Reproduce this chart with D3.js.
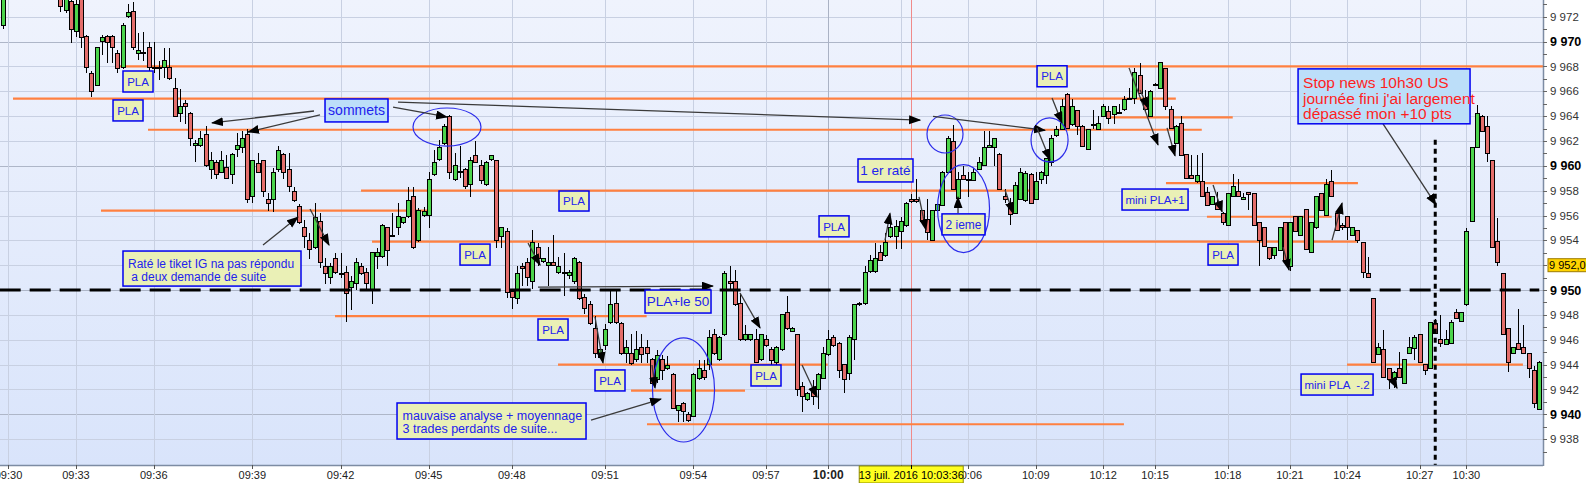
<!DOCTYPE html>
<html><head><meta charset="utf-8">
<script src="https://cdn.jsdelivr.net/npm/d3@7"></script>
<style>body{margin:0;background:#fff;overflow:hidden}svg{display:block}text{font-family:"Liberation Sans",Arial,sans-serif}</style>
</head><body>
<svg id="c" width="1586" height="483"></svg>
<script>
// ---- candle data (index = bar number) ----
const opens=[9971.3,9974.5,9976.0,9975.8,9977.4,9976.5,9975.3,9976.2,9975.5,9974.8,9975.4,9974.3,9972.5,9973.2,9970.8,9974.0,9970.4,9967.4,9966.5,9970.0,
9970.4,9970.4,9969.0,9967.9,9972.0,9972.4,9969.0,9969.0,9969.5,9967.9,9967.9,9967.9,9967.9,9966.2,9964.2,9965.0,9964.2,9961.6,9961.6,9962.5,
9959.7,9960.3,9959.5,9959.9,9959.3,9961.3,9961.5,9962.5,9957.5,9960.2,9960.4,9957.3,9957.3,9959.7,9960.9,9959.7,9957.9,9956.7,9955.0,9954.0,
9953.4,9955.5,9951.9,9951.0,9952.5,9951.3,9951.4,9950.2,9950.5,9951.9,9951.4,9950.0,9952.7,9952.7,9955.0,9954.4,9955.0,9955.4,9955.9,9957.5,
9954.0,9956.0,9956.0,9959.3,9960.5,9961.8,9964.0,9958.9,9959.5,9959.7,9958.5,9960.8,9960.0,9958.5,9960.5,9960.4,9954.3,9954.7,9949.9,9949.3,
9951.9,9952.2,9950.7,9953.4,9952.3,9952.0,9952.2,9951.4,9951.4,9951.2,9950.7,9952.2,9949.4,9948.8,9946.9,9944.6,9945.5,9947.4,9948.9,9947.3,
9944.9,9944.9,9944.4,9945.4,9945.4,9944.4,9942.8,9944.4,9943.7,9943.2,9940.3,9940.9,9939.95,9939.8,9942.9,9943.5,9944.0,9946.4,9944.4,9946.4,
9950.7,9950.7,9948.9,9946.0,9946.0,9946.0,9944.4,9946.0,9945.2,9944.2,9945.2,9948.2,9946.7,9946.4,9942.2,9941.2,9942.1,9942.0,9942.9,9944.8,
9946.2,9945.7,9944.0,9943.25,9946.0,9948.9,9948.9,9951.5,9951.5,9953.0,9952.8,9954.3,9954.3,9954.7,9955.2,9957.3,9957.3,9956.4,9955.7,9954.0,
9956.4,9956.8,9959.5,9961.95,9957.4,9959.2,9958.9,9958.8,9959.7,9960.0,9961.5,9961.5,9960.9,9957.5,9957.0,9956.2,9957.3,9957.2,9959.3,9957.3,
9958.9,9959.2,9960.3,9962.4,9962.9,9965.7,9963.3,9964.45,9963.2,9961.3,9963.3,9962.95,9964.0,9964.4,9964.1,9964.2,9964.5,9965.4,9965.4,9967.3,
9965.4,9964.0,9966.5,9966.25,9967.8,9964.5,9961.8,9963.4,9960.9,9959.2,9958.7,9958.7,9957.85,9956.9,9956.9,9956.2,9955.2,9957.5,9957.9,9957.3,
9957.85,9957.8,9955.4,9955.0,9953.4,9952.8,9953.2,9955.4,9951.9,9955.9,9954.4,9956.45,9953.0,9955.0,9957.8,9956.0,9958.7,9956.2,9955.2,9955.9,
9954.4,9954.8,9953.8,9951.3,9949.3,9944.8,9945.2,9943.7,9942.8,9943.7,9942.5,9944.9,9945.3,9946.4,9944.0,9943.7,9947.3,9946.0,9945.6,9945.7,
9948.2,9947.5,9948.8,9955.5,9961.5,9964.0,9963.2,9960.4,9953.9,9951.3,9946.9,9944.9,9945.7,9945.4,9944.9,9943.5,9940.4];
const highs=[9975.0,9976.5,9977.5,9978.0,9978.6,9977.2,9976.8,9977.0,9976.0,9975.9,9975.8,9974.6,9974.5,9973.6,9973.5,9974.3,9970.5,9967.6,9969.6,9970.5,
9970.5,9970.5,9969.3,9971.5,9973.0,9973.2,9970.7,9970.8,9970.0,9970.0,9968.4,9969.5,9969.5,9967.1,9966.2,9965.3,9964.3,9962.1,9962.8,9963.2,
9961.1,9960.5,9961.2,9960.9,9961.0,9962.6,9962.8,9963.0,9960.5,9961.0,9960.5,9957.8,9959.8,9961.6,9961.0,9961.0,9958.3,9956.9,9955.6,9954.6,
9957.0,9956.2,9952.6,9952.2,9953.0,9953.0,9951.9,9951.1,9952.6,9952.2,9951.8,9953.1,9953.4,9955.3,9955.1,9956.2,9957.0,9955.9,9958.3,9958.3,
9956.6,9956.7,9959.5,9961.3,9962.1,9963.4,9964.1,9961.0,9961.6,9959.8,9960.7,9962.0,9960.5,9960.4,9960.9,9960.5,9955.1,9955.0,9950.0,9951.9,
9952.2,9952.6,9954.8,9953.8,9952.6,9953.5,9954.4,9952.7,9953.0,9951.6,9952.7,9952.3,9949.7,9949.1,9947.9,9945.3,9947.3,9949.9,9950.0,9947.4,
9946.0,9946.5,9946.7,9946.5,9946.0,9944.5,9945.2,9944.8,9944.7,9943.3,9940.75,9941.0,9940.2,9943.3,9944.4,9944.4,9946.8,9946.9,9946.3,9951.5,
9951.9,9951.6,9949.7,9947.2,9946.5,9946.9,9946.5,9946.4,9945.4,9945.5,9948.1,9949.5,9947.0,9946.5,9942.6,9941.8,9942.8,9943.3,9945.45,9946.8,
9946.4,9945.8,9944.05,9946.4,9948.9,9949.0,9951.9,9952.8,9953.8,9953.6,9954.6,9955.4,9955.65,9955.9,9957.1,9957.7,9958.9,9956.45,9957.3,9956.45,
9956.95,9959.55,9962.4,9963.3,9959.5,9960.0,9959.5,9959.8,9960.7,9962.8,9962.8,9962.25,9961.0,9958.1,9957.4,9958.7,9959.8,9959.6,9959.4,9959.5,
9959.55,9960.65,9962.5,9963.2,9965.4,9965.85,9965.4,9964.5,9963.25,9963.0,9964.5,9964.0,9965.0,9964.8,9964.85,9965.0,9965.6,9966.25,9967.9,9968.3,
9966.1,9966.1,9966.7,9968.35,9967.85,9964.8,9963.25,9964.0,9960.95,9960.9,9960.9,9961.0,9958.3,9957.55,9957.9,9956.25,9957.85,9959.3,9958.9,9957.8,
9957.9,9957.85,9955.45,9955.05,9953.45,9953.45,9955.05,9955.45,9955.45,9955.95,9955.95,9956.5,9955.45,9957.55,9957.85,9958.9,9959.7,9956.25,9955.4,9955.95,
9955.05,9954.85,9953.85,9952.7,9949.35,9945.7,9946.8,9943.75,9943.45,9945.0,9944.45,9946.25,9946.4,9946.45,9944.05,9947.45,9947.7,9948.0,9946.8,9947.6,
9948.5,9948.25,9955.0,9961.55,9964.9,9964.05,9964.0,9960.45,9955.8,9951.4,9946.95,9945.45,9948.5,9947.2,9944.95,9943.9,9944.25];
const lows=[9971.0,9974.2,9975.4,9975.5,9976.2,9975.0,9974.6,9975.1,9974.3,9974.1,9974.0,9972.4,9972.3,9969.9,9970.4,9969.5,9967.5,9965.5,9966.4,9968.9,
9968.3,9968.3,9967.5,9967.8,9971.9,9969.3,9968.5,9968.4,9967.6,9967.5,9966.9,9967.1,9966.9,9963.9,9963.5,9963.4,9961.6,9960.3,9961.5,9959.9,
9958.9,9958.9,9959.4,9958.9,9958.5,9960.7,9961.0,9957.0,9957.0,9959.4,9957.5,9956.4,9956.3,9959.5,9958.9,9957.9,9957.1,9955.3,9953.4,9952.5,
9953.3,9951.8,9950.5,9950.5,9951.3,9951.0,9947.4,9948.4,9950.0,9951.2,9950.1,9948.9,9951.7,9952.6,9951.9,9954.3,9954.4,9955.3,9955.8,9953.3,
9953.9,9955.9,9955.0,9959.2,9960.4,9961.7,9958.9,9958.8,9959.0,9958.1,9957.5,9960.2,9958.5,9958.4,9960.4,9953.4,9953.4,9949.4,9948.5,9948.9,
9950.3,9950.3,9950.1,9951.9,9952.2,9950.3,9951.9,9951.3,9949.5,9950.9,9950.5,9949.2,9948.1,9947.2,9944.5,9944.5,9945.2,9947.3,9947.3,9944.8,
9944.1,9944.0,9944.2,9944.1,9944.1,9942.2,9942.5,9942.8,9943.6,9940.4,9939.4,9939.4,9939.4,9939.75,9942.8,9942.8,9943.6,9944.8,9944.3,9946.3,
9950.0,9948.7,9945.9,9945.9,9945.9,9944.1,9944.3,9945.4,9943.4,9944.0,9945.1,9946.8,9946.6,9941.5,9940.2,9941.1,9940.75,9940.4,9942.85,9944.7,
9945.4,9942.9,9941.7,9942.8,9944.4,9948.7,9948.8,9951.4,9951.4,9952.35,9952.7,9954.2,9953.3,9953.3,9955.1,9957.0,9957.0,9955.4,9954.0,9953.95,
9956.35,9956.75,9959.45,9958.05,9957.35,9958.85,9957.5,9958.75,9959.65,9959.95,9961.4,9960.0,9958.05,9957.0,9955.2,9956.15,9957.25,9957.1,9956.95,9957.25,
9958.5,9958.5,9960.0,9962.3,9962.85,9962.95,9963.2,9962.5,9961.5,9961.25,9963.0,9962.9,9963.95,9963.4,9963.4,9964.15,9964.45,9965.35,9965.0,9965.75,
9964.45,9963.95,9966.4,9966.2,9964.5,9962.95,9961.75,9960.75,9958.9,9958.9,9958.65,9957.45,9956.75,9956.85,9956.45,9955.2,9955.15,9957.45,9957.45,9957.25,
9956.45,9955.15,9951.9,9953.45,9952.45,9952.5,9953.15,9952.25,9951.5,9954.65,9954.35,9953.25,9952.95,9954.95,9956.35,9955.95,9957.45,9954.75,9954.8,9954.0,
9954.35,9953.8,9951.0,9950.95,9944.15,9944.75,9942.95,9942.0,9942.1,9942.95,9942.45,9944.85,9944.4,9944.15,9943.2,9943.65,9946.45,9945.4,9945.55,9945.65,
9947.65,9947.45,9948.75,9955.45,9961.45,9962.75,9960.3,9953.35,9951.9,9946.35,9943.4,9944.85,9945.15,9944.85,9942.9,9940.5,9940.35];
const closes=[9974.5,9976.0,9975.8,9977.4,9976.5,9975.3,9976.2,9975.5,9974.8,9975.4,9974.3,9972.8,9974.0,9971.0,9973.0,9970.3,9967.9,9966.0,9969.5,9970.3,
9969.9,9969.5,9967.8,9971.3,9972.3,9969.5,9969.3,9969.1,9967.9,9967.8,9967.85,9968.5,9967.0,9964.0,9964.8,9964.8,9962.2,9961.8,9962.2,9960.0,
9960.4,9959.3,9960.4,9959.0,9960.9,9961.6,9962.2,9957.3,9960.4,9959.5,9957.9,9957.0,9959.5,9961.2,9959.5,9958.3,9957.2,9955.4,9954.3,9953.3,
9955.8,9952.2,9951.3,9951.9,9951.4,9951.25,9949.7,9950.7,9952.2,9951.3,9950.5,9953.0,9953.0,9955.2,9953.2,9954.35,9955.9,9955.8,9957.2,9953.4,
9956.4,9956.3,9958.9,9960.3,9961.5,9963.2,9959.5,9960.0,9959.55,9958.3,9960.4,9960.3,9958.8,9960.3,9960.8,9954.0,9955.0,9949.8,9949.4,9951.3,
9951.75,9951.0,9953.8,9952.5,9952.5,9952.2,9952.0,9951.9,9951.3,9951.4,9952.5,9949.3,9948.5,9947.3,9944.9,9945.2,9946.8,9948.8,9947.4,9944.9,
9945.4,9944.1,9945.2,9944.8,9944.9,9942.5,9944.7,9943.5,9943.9,9940.5,9940.7,9940.2,9939.5,9943.2,9943.7,9943.0,9946.2,9944.9,9946.2,9951.3,
9950.5,9948.8,9946.0,9946.4,9946.4,9944.2,9946.4,9945.5,9944.3,9945.4,9948.0,9946.9,9946.9,9942.0,9941.4,9941.7,9941.4,9943.2,9944.9,9946.0,
9945.5,9943.5,9942.8,9946.2,9948.8,9948.8,9951.4,9952.4,9952.5,9952.4,9953.8,9955.0,9955.1,9955.5,9957.0,9957.1,9957.1,9955.5,9954.65,9956.4,
9956.9,9959.5,9962.2,9958.1,9958.9,9958.9,9958.85,9959.5,9960.3,9961.5,9961.6,9962.2,9958.1,9957.3,9956.1,9958.4,9959.5,9959.4,9957.0,9958.7,
9959.5,9960.6,9962.2,9962.9,9964.8,9963.0,9964.8,9963.2,9961.55,9962.9,9963.35,9963.4,9964.8,9963.8,9964.8,9964.25,9965.3,9965.45,9967.5,9965.8,
9964.5,9966.0,9966.55,9968.3,9964.8,9963.0,9963.2,9960.8,9958.95,9958.95,9959.2,9957.5,9956.8,9957.5,9956.5,9955.4,9957.8,9958.3,9957.5,9957.45,
9957.7,9955.2,9954.0,9953.5,9952.5,9953.4,9955.0,9952.3,9955.4,9954.7,9955.9,9953.3,9955.4,9957.5,9956.4,9958.5,9957.5,9954.8,9955.0,9955.0,
9955.0,9954.0,9951.4,9951.0,9944.2,9945.4,9943.0,9942.8,9943.4,9943.0,9944.4,9945.4,9946.2,9944.2,9943.5,9947.4,9946.5,9945.7,9946.0,9947.4,
9947.7,9948.2,9954.7,9961.5,9964.2,9962.8,9961.0,9953.4,9952.2,9946.4,9944.2,9945.4,9945.2,9944.9,9943.7,9940.9,9944.2];

// ---- axes ----
const yTicks=[9938,9940,9942,9944,9946,9948,9950,9952,9954,9956,9958,9960,9962,9964,9966,9968,9970,9972];
const yMajor=[9940,9950,9960,9970];
const xTickIndex=[1,14,29,48,65,82,98,116,133,147,159,173,186,199,212,222,236,248,259,273,282];
const xTickLabels=["09:30","09:33","09:36","09:39","09:42","09:45","09:48","09:51","09:54","09:57","10:00","10:03","10:06","10:09","10:12","10:15","10:18","10:21","10:24","10:27","10:30"];
const lastPrice=9952.0;
const cursorIndex=175, cursorLabel="13 juil. 2016 10:03:36";
const newsIndex=276;

// ---- horizontal levels: [price, fromIndex, toIndex] ----
const levels=[[9968,21.72,298],[9965.4,1.87,226.0],[9962.9,27.89,231.0],[9958,68.95,197.9],[9956.4,18.83,81.86],
[9953.9,71.07,260.87],[9947.9,63.94,124.0],[9944,106.92,158.9],[9941.9,120.99,142.96],[9939.2,124.07,216.0],
[9963.9,213.1,236.97],[9958.6,224.1,261.1],[9955.9,232.0,256.05],[9944,259.0,292.9]];
const dashedLevel=[9950,-0.7,296.05];

// ---- annotations (index / price coordinates) ----
const boxes=[
 {k:"pla",t:["PLA"],a:[23.07,9967.63,28.86,9965.94]},
 {k:"pla",t:["PLA"],a:[21.15,9965.30,26.93,9963.61]},
 {k:"blue",t:["sommets"],a:[62.01,9965.38,74.15,9963.53]},
 {k:"note",t:["Raté le tiket IG na pas répondu"," a deux demande de suite"],a:[23.07,9953.14,57.38,9950.32]},
 {k:"pla",t:["PLA"],a:[88.03,9953.70,93.82,9952.01]},
 {k:"note2",t:["mauvaise analyse + moyennage","3 trades perdants de suite..."],a:[75.89,9940.91,112.32,9938.01]},
 {k:"pla",t:["PLA"],a:[107.11,9957.97,112.89,9956.36]},
 {k:"pla",t:["PLA"],a:[103.06,9947.67,108.85,9945.98]},
 {k:"pla",t:["PLA"],a:[114.05,9943.57,119.83,9941.88]},
 {k:"big",t:["PLA+le 50"],a:[123.69,9950.0,136.41,9948.15]},
 {k:"pla",t:["PLA"],a:[144.12,9943.97,149.90,9942.28]},
 {k:"pla",t:["PLA"],a:[157.23,9955.97,163.01,9954.28]},
 {k:"big",t:["1 er raté"],a:[164.74,9960.55,175.34,9958.70]},
 {k:"mid",t:["2 ieme"],a:[180.93,9956.13,189.22,9954.44]},
 {k:"pla",t:["PLA"],a:[199.25,9968.05,205.03,9966.36]},
 {k:"pla",t:["mini PLA+1"],a:[215.63,9958.13,228.36,9956.44]},
 {k:"pla",t:["PLA"],a:[232.21,9953.70,237.99,9952.01]},
 {k:"stop",t:["Stop news 10h30 US","journée fini j'ai largement","dépassé mon +10 pts"],a:[249.56,9967.80,282.71,9963.38]},
 {k:"pla",t:["mini PLA  -.2"],a:[250.14,9943.24,264.02,9941.55]}
];
const ellipses=[[85.52,9963.12,6.55,1.53],[131.11,9941.96,5.98,4.19],[181.51,9962.56,3.47,1.53],[185.08,9956.56,5.01,3.54],[201.66,9962.08,3.57,1.77]];
const arrows=[[59.89,9964.41,40.23,9963.45],[61.05,9964.09,47.17,9962.72],[75.12,9964.73,85.53,9963.93],[76.08,9965.13,176.70,9963.68],
[179.20,9963.98,200.79,9962.86],[202.14,9965.46,204.07,9963.45],[199.25,9963.05,201.75,9960.47],[50.06,9953.62,56.80,9955.87],
[59.12,9956.52,62.78,9953.62],[101.14,9953.78,103.45,9952.01],[103.06,9950.24,136.79,9950.32],[114.05,9947.83,115.59,9944.13],
[125.04,9943.97,125.62,9942.12],[113.28,9939.54,126.77,9941.23],[142.0,9949.76,145.86,9946.95],[153.95,9943.97,156.84,9941.39],
[169.95,9954.01,170.91,9956.18],[176.50,9957.49,177.85,9954.83],[184.02,9956.18,184.02,9957.49],[193.08,9958.05,194.62,9956.18],
[216.98,9967.88,222.57,9961.68],[224.31,9963.05,225.85,9960.8],[219.11,9966.1,220.65,9964.65],[233.18,9958.46,234.92,9956.29],
[256.11,9954.02,258.04,9957.0],[246.67,9953.46,247.83,9951.61],[265.94,9963.38,276.15,9956.86],[267.67,9942.9,268.64,9942.1]];

// ---- drawing ----
const svg=d3.select("#c");
const PR=1543, PB=465;
const x=d3.scaleLinear().domain([0,296]).range([3.3,1539]);
const y=d3.scaleLinear().domain([9940,9972]).range([414.3,16.7]);
const loc=d3.formatLocale({decimal:",",thousands:" ",grouping:[3],currency:["","€"]});
const fInt=loc.format(",.0f"), f1=loc.format(",.1f");

const defs=svg.append("defs");
const g=defs.append("linearGradient").attr("id","bg").attr("x1",0).attr("y1",0).attr("x2",0).attr("y2",1);
g.append("stop").attr("offset","0%").attr("stop-color","#eff3fd");
g.append("stop").attr("offset","100%").attr("stop-color","#d9e4fb");
defs.append("clipPath").attr("id","clip").append("rect").attr("x",0).attr("y",0).attr("width",PR).attr("height",PB);
defs.append("marker").attr("id","ah").attr("markerUnits","userSpaceOnUse").attr("markerWidth",12).attr("markerHeight",10)
 .attr("refX",11).attr("refY",4.5).attr("orient","auto").append("path").attr("d","M0,0 L12,4.5 L0,9 Z").attr("fill","#000");

svg.append("rect").attr("width",1586).attr("height",483).attr("fill","#fff");
svg.append("rect").attr("x",0).attr("y",0).attr("width",PR).attr("height",PB).attr("fill","url(#bg)");

const plot=svg.append("g").attr("clip-path","url(#clip)");
// grid
plot.selectAll(".hg").data(yTicks).join("line")
 .attr("x1",0).attr("x2",PR).attr("y1",d=>Math.round(y(d))+0.5).attr("y2",d=>Math.round(y(d))+0.5)
 .attr("stroke",d=>yMajor.includes(d)?"#aeb6c8":"#c8d0e2").attr("stroke-width",1);
plot.selectAll(".vg").data(xTickIndex).join("line")
 .attr("y1",0).attr("y2",PB).attr("x1",d=>Math.round(x(d))+0.5).attr("x2",d=>Math.round(x(d))+0.5)
 .attr("stroke",(d,i)=>xTickLabels[i]==="10:00"?"#aab2c4":"#c8d0e2").attr("stroke-width",1);

// cursor line
plot.append("line").attr("x1",Math.round(x(cursorIndex))+0.5).attr("x2",Math.round(x(cursorIndex))+0.5).attr("y1",0).attr("y2",PB)
 .attr("stroke","#f08a8a").attr("stroke-width",1);

// orange levels
plot.selectAll(".lv").data(levels).join("line")
 .attr("x1",d=>x(d[1])).attr("x2",d=>x(d[2])).attr("y1",d=>y(d[0])).attr("y2",d=>y(d[0]))
 .attr("stroke","#ff8040").attr("stroke-width",2.2);

// candles
const idx=d3.range(opens.length);
const cg=plot.append("g").attr("shape-rendering","crispEdges");
cg.selectAll(".wk").data(idx).join("line")
 .attr("x1",i=>Math.round(x(i))+0.5).attr("x2",i=>Math.round(x(i))+0.5)
 .attr("y1",i=>y(highs[i])).attr("y2",i=>y(lows[i])).attr("stroke","#000").attr("stroke-width",1);
cg.selectAll(".bd").data(idx).join("rect")
 .attr("x",i=>Math.round(x(i))-1.5).attr("width",4)
 .attr("y",i=>y(Math.max(opens[i],closes[i])))
 .attr("height",i=>Math.max(1,Math.abs(y(opens[i])-y(closes[i]))))
 .attr("fill",i=>closes[i]>=opens[i]?"#4cd44c":"#e46e6b").attr("stroke","#000").attr("stroke-width",1);

// dashed 9950 line
plot.append("line").attr("x1",x(dashedLevel[1])).attr("x2",x(dashedLevel[2])).attr("y1",y(dashedLevel[0])).attr("y2",y(dashedLevel[0]))
 .attr("stroke","#000").attr("stroke-width",3).attr("stroke-dasharray","21,9");
// news dotted vertical
plot.append("line").attr("x1",x(newsIndex)).attr("x2",x(newsIndex)).attr("y1",y(9962.1)).attr("y2",PB)
 .attr("stroke","#000").attr("stroke-width",3).attr("stroke-dasharray","5,4");

// ellipses
plot.selectAll(".el").data(ellipses).join("ellipse")
 .attr("cx",d=>x(d[0])).attr("cy",d=>y(d[1]))
 .attr("rx",d=>x(d[0]+d[2])-x(d[0])).attr("ry",d=>y(d[1]-d[3])-y(d[1]))
 .attr("fill","none").attr("stroke","#2b2bea").attr("stroke-width",1.2);

// arrows
plot.selectAll(".ar").data(arrows).join("line")
 .attr("x1",d=>x(d[0])).attr("y1",d=>y(d[1])).attr("x2",d=>x(d[2])).attr("y2",d=>y(d[3]))
 .attr("stroke","#3a3a3a").attr("stroke-width",1.3).attr("marker-end","url(#ah)");

// boxes
const style={
 pla:{fill:"#eaf0b6",col:"#2222ee",fs:11.5,center:true},
 big:{fill:"#eaf0b6",col:"#2222ee",fs:13.5,center:true},
 mid:{fill:"#eaf0b6",col:"#2222ee",fs:12,center:true},
 blue:{fill:"#bcdef9",col:"#2222ee",fs:14,center:true},
 note:{fill:"#eaf0b6",col:"#2222ee",fs:12,center:false,pad:5,lh:13.5,first:16.5},
 note2:{fill:"#eaf0b6",col:"#2222ee",fs:12.5,center:false,pad:5.5,lh:12.5,first:17.5},
 stop:{fill:"#bcdef9",col:"#ff1f1f",fs:15.5,center:false,pad:5,lh:15.3,first:19.5}
};
boxes.forEach(b=>{
 const s=style[b.k];
 const x1=x(b.a[0]), y1=y(b.a[1]), x2=x(b.a[2]), y2=y(b.a[3]);
 const gg=plot.append("g");
 gg.append("rect").attr("x",x1).attr("y",y1).attr("width",x2-x1).attr("height",y2-y1)
  .attr("fill",s.fill).attr("stroke","#0000f0").attr("stroke-width",1.5);
 if(s.center){
  gg.append("text").attr("x",(x1+x2)/2).attr("y",(y1+y2)/2).attr("dy","0.36em").attr("text-anchor","middle")
   .attr("font-size",s.fs).attr("fill",s.col).style("white-space","pre").text(b.t[0]);
 } else {
  b.t.forEach((t,j)=>gg.append("text").attr("x",x1+s.pad).attr("y",y1+s.first+j*s.lh)
   .attr("font-size",s.fs).attr("fill",s.col).style("white-space","pre").text(t));
 }
});

// axes frame
svg.append("line").attr("x1",PR+0.5).attr("x2",PR+0.5).attr("y1",0).attr("y2",PB+1).attr("stroke","#7d8ca3").attr("stroke-width",1.5);
svg.append("line").attr("x1",0).attr("x2",PR).attr("y1",PB+0.5).attr("y2",PB+0.5).attr("stroke","#7d8ca3").attr("stroke-width",1.5);

// y axis ticks + labels
svg.selectAll(".ymt").data(d3.range(9937,9974)).join("line")
 .attr("x1",PR).attr("x2",PR+4).attr("y1",d=>Math.round(y(d))+0.5).attr("y2",d=>Math.round(y(d))+0.5).attr("stroke","#666");
svg.selectAll(".yl").data(yTicks.filter(d=>d!==lastPrice)).join("text")
 .attr("x",PR+7).attr("y",d=>y(d)).attr("dy","0.36em")
 .attr("font-size",d=>yMajor.includes(d)?12.5:11.5).attr("font-weight",d=>yMajor.includes(d)?"bold":"normal")
 .attr("fill",d=>yMajor.includes(d)?"#000":"#333").text(d=>fInt(d));
// last price label (cut at the right edge like the original)
const lp=svg.append("g");
lp.append("rect").attr("x",PR+5).attr("y",y(lastPrice)-6.5).attr("width",50).attr("height",13)
 .attr("fill","#ffd400").attr("stroke","#9c7a00").attr("stroke-width",1);
lp.append("text").attr("x",PR+6).attr("y",y(lastPrice)).attr("dy","0.36em").attr("font-size",11).attr("fill","#000").text(f1(lastPrice));

// x axis ticks + labels (10:03 sits under the cursor label)
const shown=xTickIndex.map((d,i)=>({d,l:xTickLabels[i]})).filter(o=>o.l!=="10:03");
svg.selectAll(".xt").data(xTickIndex).join("line")
 .attr("x1",d=>Math.round(x(d))+0.5).attr("x2",d=>Math.round(x(d))+0.5).attr("y1",PB).attr("y2",PB+4).attr("stroke","#555");
svg.selectAll(".xl").data(shown).join("text")
 .attr("x",o=>x(o.d)).attr("y",479).attr("text-anchor","middle")
 .attr("font-size",o=>o.l==="10:00"?12:11).attr("font-weight",o=>o.l==="10:00"?"bold":"normal")
 .attr("fill","#222").text(o=>o.l);
// cursor date label
const cx=x(cursorIndex);
svg.append("rect").attr("x",cx-52).attr("y",466).attr("width",104).attr("height",17).attr("fill","#ffff20").attr("stroke","#8a8a00").attr("stroke-width",1);
svg.append("text").attr("x",cx).attr("y",479).attr("text-anchor","middle").attr("font-size",11).attr("fill","#000").text(cursorLabel);
svg.append("line").attr("x1",Math.round(cx)+0.5).attr("x2",Math.round(cx)+0.5).attr("y1",PB).attr("y2",PB+4).attr("stroke","#000");
</script>
</body></html>
